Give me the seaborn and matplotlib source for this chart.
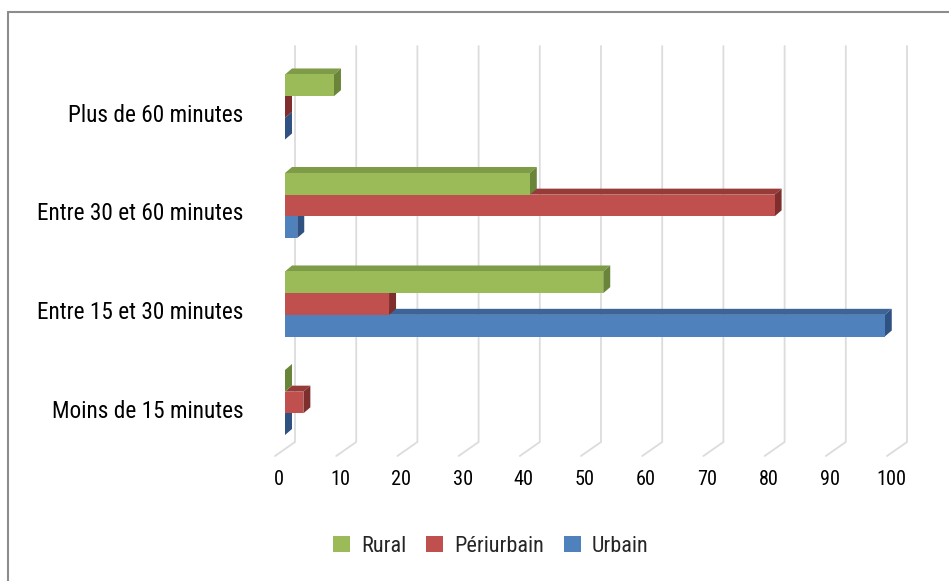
import matplotlib
matplotlib.use("Agg")
import matplotlib.pyplot as plt
import matplotlib.transforms as mtrans
from matplotlib import font_manager as fm
from matplotlib.patches import Polygon, Patch
from matplotlib.lines import Line2D
import numpy as np
import pandas as pd
import seaborn as sns

# ---------------- data ----------------
categories = ["Plus de 60 minutes", "Entre 30 et 60 minutes",
              "Entre 15 et 30 minutes", "Moins de 15 minutes"]
series = ["Rural", "Périurbain", "Urbain"]
rural = [8, 40, 52, 0]
periurbain = [0, 80, 17, 3]
urbain = [0, 2, 98, 0]
xticks = list(range(0, 101, 10))

front_colors = {"Rural": "#9BBB59", "Périurbain": "#C0504D", "Urbain": "#4F81BD"}
top_colors = {"Rural": "#7E9B48", "Périurbain": "#963B38", "Urbain": "#3C6496"}
side_colors = {"Rural": "#6A853A", "Périurbain": "#7E2F2D", "Urbain": "#2F5282"}

df = pd.DataFrame({
    "Temps": categories * 3,
    "Valeur": rural + periurbain + urbain,
    "Zone": [s for s in series for _ in categories],
})

sns.set_theme(style="white")
plt.rcParams["font.family"] = ["DejaVu Sans"]

# pick a condensed / narrow font if one is installed
fpath = None
pref = ["Liberation Sans Narrow", "Roboto Condensed", "Open Sans Condensed", "DejaVu Sans"]
for name in pref:
    for f in fm.fontManager.ttflist:
        if f.name == name and f.style == "normal" and f.weight in (400, "normal", "regular") and \
                (name != "DejaVu Sans" or f.stretch == "condensed"):
            fpath = f.fname
            break
    if fpath:
        break
if fpath is None:
    for f in fm.fontManager.ttflist:
        if f.stretch in ("condensed", "semi-condensed", "extra-condensed") and f.style == "normal":
            fpath = f.fname
            break


def fprop(size):
    if fpath:
        return fm.FontProperties(fname=fpath, size=size)
    return fm.FontProperties(family="DejaVu Sans", stretch="condensed", size=size)


W, H = 949, 581
fig = plt.figure(figsize=(W / 100, H / 100), dpi=100)
ax_top_px, ax_bot_px = 53, 449
ax_left_px, ax_w_px = 285, 612
ax = fig.add_axes([ax_left_px / W, (H - ax_bot_px) / H, ax_w_px / W, (ax_bot_px - ax_top_px) / H])

sns.barplot(data=df, y="Temps", x="Valeur", hue="Zone", order=categories,
            hue_order=series, palette=front_colors, orient="h", width=0.66,
            saturation=1, linewidth=0, legend=False, ax=ax)

y_top, y_bot = -0.548, 3.472
ax.set_xlim(0, 100)
ax.set_ylim(y_bot, y_top)

px_x = ax_w_px / 100.0
px_y = (ax_bot_px - ax_top_px) / (y_bot - y_top)

# 3D faces for bars
bdx, bdy = 7 / px_x, 6 / px_y
zbase = {"Rural": 6, "Périurbain": 4, "Urbain": 2}
for name, cont in zip(series, ax.containers):
    zb = zbase[name]
    for bar in cont:
        bar.set_zorder(zb + 1)
        x0, w = bar.get_x(), bar.get_width()
        y0, h = bar.get_y(), bar.get_height()
        top = [(x0, y0), (x0 + w, y0), (x0 + w + bdx, y0 - bdy), (x0 + bdx, y0 - bdy)]
        side = [(x0 + w, y0), (x0 + w + bdx, y0 - bdy), (x0 + w + bdx, y0 + h - bdy), (x0 + w, y0 + h)]
        ax.add_patch(Polygon(top, closed=True, facecolor=top_colors[name], edgecolor="none",
                             zorder=zb, clip_on=False))
        ax.add_patch(Polygon(side, closed=True, facecolor=side_colors[name], edgecolor="none",
                             zorder=zb, clip_on=False))

# back wall + floor gridlines
gdx, gdy = 10 / px_x, 7 / px_y
for v in xticks:
    ax.plot([v + gdx, v + gdx, v - gdx], [y_top - gdy, y_bot - gdy, y_bot + gdy],
            color="#DCDCDC", lw=1.3, zorder=0.5, clip_on=False, solid_joinstyle="miter")

for s in ax.spines.values():
    s.set_visible(False)
ax.set_xlabel("")
ax.set_ylabel("")
ax.set_xticks(xticks)
ax.set_xticklabels([str(v) for v in xticks])
ax.tick_params(axis="x", length=0, pad=15, colors="#000000")
ax.tick_params(axis="y", length=0, pad=30, colors="#000000")


# size fonts so the text widths match the reference
renderer = fig.canvas.get_renderer()


def fit_size(text, target_px, max_size):
    t = fig.text(0, 0, text, fontproperties=fprop(20))
    wpx = t.get_window_extent(renderer).width
    t.remove()
    return min(max_size, 20 * target_px / wpx)


ysize = fit_size("Entre 30 et 60 minutes", 206, 17)
xsize = fit_size("100", 30, 15)
lsize = fit_size("Périurbain", 94, 16)

for lab in ax.get_xticklabels():
    lab.set_fontproperties(fprop(xsize))
    lab.set_transform(lab.get_transform() + mtrans.ScaledTranslation(-6 / 100, 0, fig.dpi_scale_trans))
for lab in ax.get_yticklabels():
    lab.set_fontproperties(fprop(ysize))
    lab.set_transform(lab.get_transform() + mtrans.ScaledTranslation(0, -6 / 100, fig.dpi_scale_trans))

# legend
handles = [Patch(facecolor=front_colors[s], edgecolor="none") for s in series]
fig.legend(handles, series, loc="center", bbox_to_anchor=(491 / W, 1 - 546 / H), ncol=3,
           frameon=False, prop=fprop(lsize), handlelength=0.75, handleheight=0.75,
           handletextpad=0.5, columnspacing=0.9, borderpad=0.2)

# outer border (top and left visible)
fig.add_artist(Line2D([8 / W, 8 / W], [0, 1 - 12 / H], transform=fig.transFigure,
                      color="#8C8C8C", lw=1.5))
fig.add_artist(Line2D([8 / W, 1], [1 - 12 / H, 1 - 12 / H], transform=fig.transFigure,
                      color="#8C8C8C", lw=1.5))

fig.savefig("out.png", dpi=100, facecolor="white")
